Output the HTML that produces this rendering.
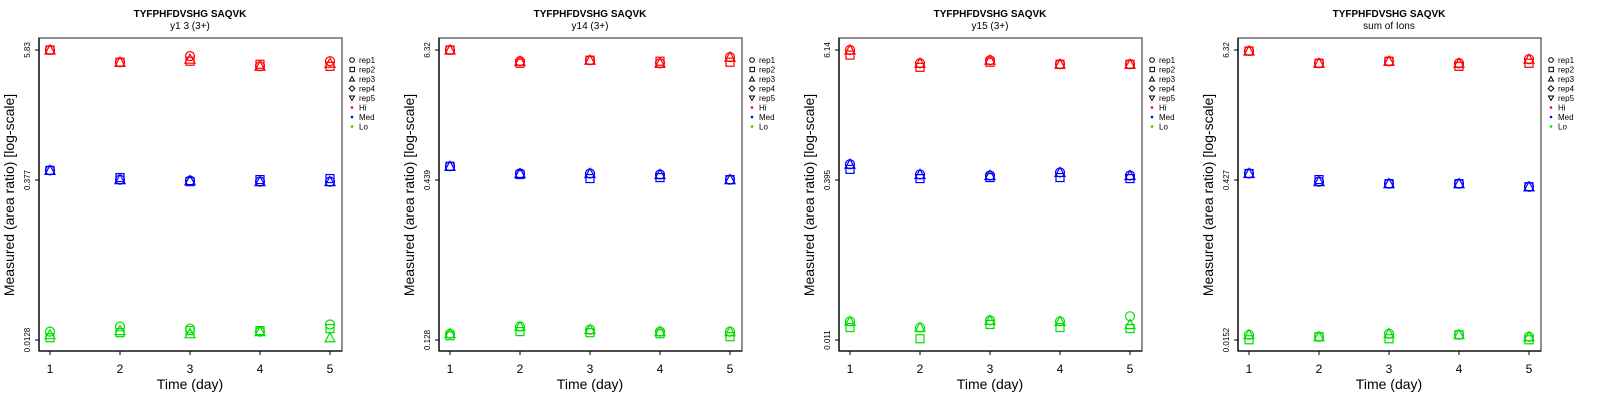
<!DOCTYPE html>
<html><head><meta charset="utf-8"><style>
body{margin:0;background:#fff}
svg{display:block}
text{font-family:"Liberation Sans",sans-serif;fill:#000}
</style></head><body>
<svg id="s" width="1600" height="400" xmlns="http://www.w3.org/2000/svg">
<g id="p0"><text x="190" y="17" font-size="10" font-weight="bold" text-anchor="middle">TYFPHFDVSHG SAQVK</text><text x="190" y="29" font-size="10" text-anchor="middle">y1 3 (3+)</text></g>
<g id="p1" transform="translate(400,0)"><text x="190" y="17" font-size="10" font-weight="bold" text-anchor="middle">TYFPHFDVSHG SAQVK</text><text x="190" y="29" font-size="10" text-anchor="middle">y14 (3+)</text></g>
<g id="p2" transform="translate(800,0)"><text x="190" y="17" font-size="10" font-weight="bold" text-anchor="middle">TYFPHFDVSHG SAQVK</text><text x="190" y="29" font-size="10" text-anchor="middle">y15 (3+)</text></g>
<g id="p3" transform="translate(1199,0)"><text x="190" y="17" font-size="10" font-weight="bold" text-anchor="middle">TYFPHFDVSHG SAQVK</text><text x="190" y="29" font-size="10" text-anchor="middle">sum of Ions</text></g>
</svg>
<script>
var NS="http://www.w3.org/2000/svg";
function el(g,t,a,txt){var e=document.createElementNS(NS,t);for(var k in a)e.setAttribute(k,a[k]);if(txt)e.textContent=txt;g.appendChild(e);return e;}
var ticks=[["5.83","0.377","0.0128"],["6.32","0.439","0.128"],["6.14","0.395","0.011"],["6.32","0.427","0.0152"]];
var data=[
[[[49],[61],[55,60,58],[65,63],[60,65,62]],[[167],[176,174],[177,178],[178,176],[178,175]],[[325,331,328],[320,326,324],[322,324,327],[325,324],[318,322,331]]],
[[[49],[60,62],[59],[62,60],[56,61]],[[163],[170,171],[170,175],[171,174],[176]],[[327,329],[320,325],[323,326],[325,327],[325,330]]],
[[[49,54],[62,66],[59,61],[63],[63]],[[161,166],[171,175],[172,174],[169,174],[172,175]],[[315,321],[321,332],[314,318],[315,321],[310,322,318]]],
[[[50],[62],[60],[62,65],[58,62]],[[170],[178,176],[180],[180],[183]],[[328,333],[330],[327,332],[328],[330,333]]]];
var cols=["#ff0000","#0000ff","#00e000"];
function sym(g,k,x,y,c){var a={fill:"none",stroke:c,"stroke-width":1.2};
 if(k==0){a.cx=x;a.cy=y;a.r=4.5;el(g,"circle",a);}
 else if(k==1){a.x=x-4;a.y=y-4;a.width=8;a.height=8;el(g,"rect",a);}
 else {a.points=(x-5)+","+(y+4)+" "+x+","+(y-5)+" "+(x+5)+","+(y+4);el(g,"polygon",a);}}
for(var p=0;p<4;p++){var g=document.getElementById("p"+p);
 el(g,"rect",{x:39,y:38,width:303,height:313,fill:"none",stroke:"#555","stroke-width":1.3});
 el(g,"line",{x1:39,y1:351,x2:342,y2:351,stroke:"#000","stroke-width":1.3});
 el(g,"line",{x1:39,y1:38,x2:39,y2:351,stroke:"#000","stroke-width":1.3});
 for(var i=0;i<5;i++){var x=50+70*i;el(g,"line",{x1:x,y1:351,x2:x,y2:355,stroke:"#000"});el(g,"text",{x:x,y:373,"font-size":12,"text-anchor":"middle"},""+(i+1));}
 var ys=[50,180,340];
 for(var j=0;j<3;j++){el(g,"line",{x1:35,y1:ys[j],x2:39,y2:ys[j],stroke:"#000"});
  el(g,"text",{x:0,y:0,"font-size":8,"text-anchor":"middle",transform:"translate(30,"+ys[j]+") rotate(-90)"},ticks[p][j]);}
 el(g,"text",{x:190,y:389,"font-size":14,"text-anchor":"middle"},"Time (day)");
 el(g,"text",{x:0,y:0,"font-size":14,"text-anchor":"middle",transform:"translate(14,195) rotate(-90)"},"Measured (area ratio) [log-scale]");
 var L=["rep1","rep2","rep3","rep4","rep5","Hi","Med","Lo"];
 for(var r=0;r<8;r++){var y=60+9.5*r;el(g,"text",{x:359,y:y+3,"font-size":8},L[r]);
  if(r==0)el(g,"circle",{cx:352,cy:y,r:2.3,fill:"none",stroke:"#000"});
  else if(r==1)el(g,"rect",{x:350,y:y-2.2,width:4.4,height:4.4,fill:"none",stroke:"#000"});
  else if(r==2)el(g,"polygon",{points:"349.5,"+(y+2)+" 352,"+(y-2.5)+" 354.5,"+(y+2),fill:"none",stroke:"#000"});
  else if(r==3)el(g,"polygon",{points:"352,"+(y-2.8)+" 354.8,"+y+" 352,"+(y+2.8)+" 349.2,"+y,fill:"none",stroke:"#000"});
  else if(r==4)el(g,"polygon",{points:"349.5,"+(y-2)+" 352,"+(y+2.5)+" 354.5,"+(y-2),fill:"none",stroke:"#000"});
  else el(g,"circle",{cx:352,cy:y,r:1.3,fill:cols[r-5]});}
 for(var c=0;c<3;c++)for(var d=0;d<5;d++){var v=data[p][c][d];var x=50+70*d;
  for(var k=0;k<3;k++){sym(g,k,x,v[k%v.length]*1.0204,cols[c]);}}
}
</script>
</body></html>
